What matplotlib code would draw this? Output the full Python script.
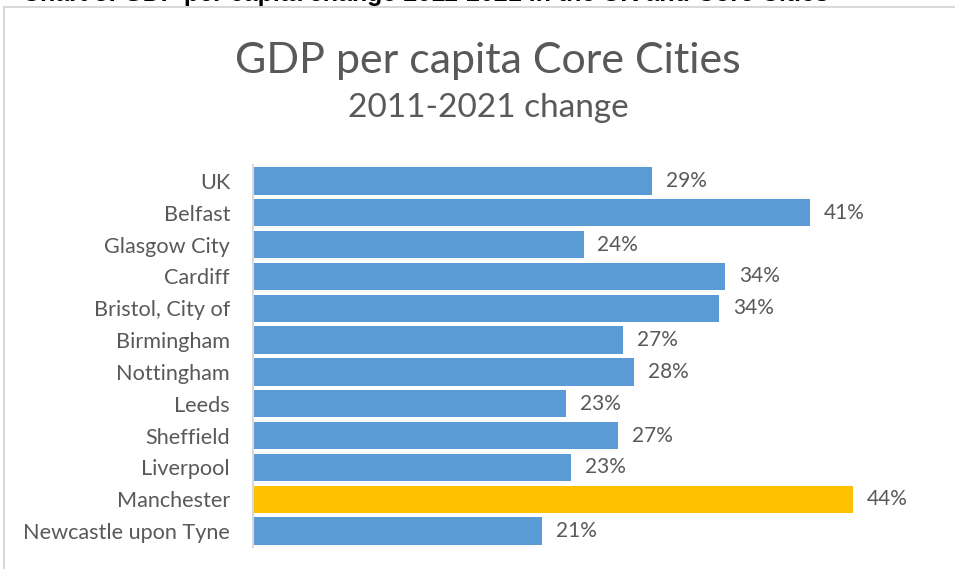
import matplotlib.pyplot as plt
from matplotlib.patches import Rectangle

# data
cities = ['UK', 'Belfast', 'Glasgow City', 'Cardiff', 'Bristol, City of',
          'Birmingham', 'Nottingham', 'Leeds', 'Sheffield', 'Liverpool',
          'Manchester', 'Newcastle upon Tyne']
change = [29.1, 40.6, 24.1, 34.4, 34.0, 27.0, 27.8, 22.8, 26.6, 23.2, 43.7, 21.1]
highlight = 'Manchester'

blue = '#5B9BD5'
gold = '#FFC000'
grey_text = '#595959'

plt.rcParams['font.family'] = ['Lato', 'DejaVu Sans']

fig = plt.figure(figsize=(9.55, 5.69), dpi=100)
W, H = 955, 569

# chart frame (clipped by page edges like the screenshot)
fig.patches.append(Rectangle((4 / W, -0.1), 1.2, 1 - 7 / H + 0.1,
                             transform=fig.transFigure, fill=False,
                             edgecolor='#d9d9d9', linewidth=1.5))

# cut-off heading from the page above
fig.text(22 / W, 1 - 1.5 / H,
         'Chart 3: GDP per capita change 2011-2021 in the UK and Core Cities',
         fontsize=18, fontweight='bold', color='black', va='baseline',
         family=['Liberation Sans', 'DejaVu Sans'])

fig.text(488 / W, 1 - 61 / H, 'GDP per capita Core Cities', ha='center', va='center',
         fontsize=31, color=grey_text)
fig.text(488 / W, 1 - 108 / H, '2011-2021 change', ha='center', va='center',
         fontsize=24, color=grey_text)

ax = fig.add_axes([253 / W, 1 - 547 / H, (939 - 253) / W, (547 - 165) / H])
y = list(range(len(cities)))
colors = [gold if c == highlight else blue for c in cities]
bars = ax.barh(y, change, height=0.86, color=colors)
for b, v in zip(bars, change):
    ax.text(b.get_width() + 1.0, b.get_y() + b.get_height() / 2, f'{v:.0f}%',
            va='center', ha='left', fontsize=15, color=grey_text)

ax.set_xlim(0, 50)
ax.set_ylim(len(cities) - 0.5, -0.5)
ax.set_yticks(y)
ax.set_yticklabels(cities, fontsize=15.6, color=grey_text)
ax.tick_params(axis='y', length=0, pad=16.5)
ax.set_xticks([])
for s in ['top', 'right', 'bottom']:
    ax.spines[s].set_visible(False)
ax.spines['left'].set_color('#d9d9d9')
ax.spines['left'].set_linewidth(1.5)

fig.savefig('out.png', dpi=100)
